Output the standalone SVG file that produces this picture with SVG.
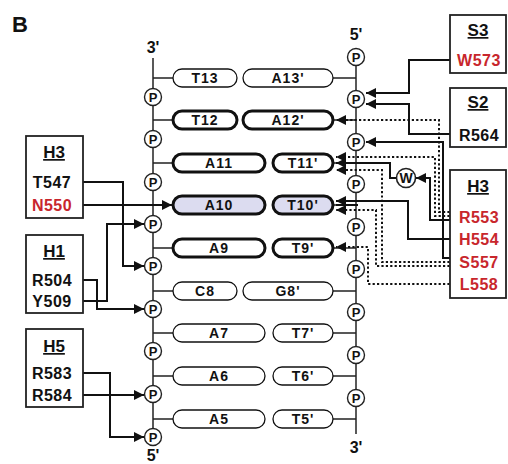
<svg xmlns="http://www.w3.org/2000/svg" width="508" height="464" viewBox="0 0 508 464">
<style>
text{font-family:"Liberation Sans",Arial,sans-serif;font-weight:bold;fill:#111}
.strand{stroke:#222;stroke-width:1.5;fill:none}
.pt{fill:#fff;stroke:#111;stroke-width:1.3}
.pk{fill:#fff;stroke:#111;stroke-width:3}
.hl{fill:#dcdcf0}
.pl{font-size:14px;letter-spacing:1px;text-anchor:middle}
.pc{fill:#fff;stroke:#222;stroke-width:1.4}
.pp{font-size:13px;text-anchor:middle}
.box{fill:#fff;stroke:#222;stroke-width:1.8}
.hd{font-size:17px;text-anchor:middle;text-decoration:underline}
.it{font-size:16px;letter-spacing:0.5px;text-anchor:middle}
.red{fill:#c8262c}
.end{font-size:16px;text-anchor:middle}
.c{fill:none;stroke:#111;stroke-width:2}
.d{stroke-dasharray:2.2 2.2}
</style>
<defs>
<marker id="ah" markerUnits="userSpaceOnUse" markerWidth="10" markerHeight="10" refX="10" refY="5" orient="auto">
<path d="M0,0 L10,5 L0,10 z" fill="#111"/>
</marker>
</defs>
<rect width="508" height="464" fill="#fff"/>
<text x="12" y="32" style="font-size:22px">B</text>
<g id="strands">
<line class="strand" x1="153" y1="58" x2="153" y2="437"/>
<line class="strand" x1="356" y1="57" x2="356" y2="434"/>
<g class="strand">
<path d="M153,78H173M153,120H173M153,163H173M153,205H173M153,248H173M153,291H173M153,333H173M153,376H173M153,419H173"/>
<path d="M333,78H356M333,120H356M333,163H356M333,205H356M333,248H356M333,291H356M333,333H356M333,376H356M333,419H356"/>
</g>
<text class="end" x="153" y="53">3'</text>
<text class="end" x="356" y="40">5'</text>
<text class="end" x="153" y="461">5'</text>
<text class="end" x="356" y="453">3'</text>
</g>
<g id="phosphates">
<g><circle class="pc" cx="153" cy="97" r="8.5"/><text class="pp" x="153" y="101.7">P</text></g>
<g><circle class="pc" cx="153" cy="139" r="8.5"/><text class="pp" x="153" y="143.7">P</text></g>
<g><circle class="pc" cx="153" cy="182" r="8.5"/><text class="pp" x="153" y="186.7">P</text></g>
<g><circle class="pc" cx="153" cy="224" r="8.5"/><text class="pp" x="153" y="228.7">P</text></g>
<g><circle class="pc" cx="153" cy="266" r="8.5"/><text class="pp" x="153" y="270.7">P</text></g>
<g><circle class="pc" cx="153" cy="309" r="8.5"/><text class="pp" x="153" y="313.7">P</text></g>
<g><circle class="pc" cx="153" cy="351" r="8.5"/><text class="pp" x="153" y="355.7">P</text></g>
<g><circle class="pc" cx="153" cy="394" r="8.5"/><text class="pp" x="153" y="398.7">P</text></g>
<g><circle class="pc" cx="153" cy="437" r="8.5"/><text class="pp" x="153" y="441.7">P</text></g>
<g><circle class="pc" cx="356" cy="57" r="8.5"/><text class="pp" x="356" y="61.7">P</text></g>
<g><circle class="pc" cx="356" cy="99" r="8.5"/><text class="pp" x="356" y="103.7">P</text></g>
<g><circle class="pc" cx="356" cy="142" r="8.5"/><text class="pp" x="356" y="146.7">P</text></g>
<g><circle class="pc" cx="356" cy="184" r="8.5"/><text class="pp" x="356" y="188.7">P</text></g>
<g><circle class="pc" cx="356" cy="227" r="8.5"/><text class="pp" x="356" y="231.7">P</text></g>
<g><circle class="pc" cx="356" cy="269" r="8.5"/><text class="pp" x="356" y="273.7">P</text></g>
<g><circle class="pc" cx="356" cy="312" r="8.5"/><text class="pp" x="356" y="316.7">P</text></g>
<g><circle class="pc" cx="356" cy="355" r="8.5"/><text class="pp" x="356" y="359.7">P</text></g>
<g><circle class="pc" cx="356" cy="398" r="8.5"/><text class="pp" x="356" y="402.7">P</text></g>
</g>
<g id="bases">
<g id="T13"><rect class="pt" x="173" y="69" width="64" height="18" rx="9"/><text class="pl" x="205" y="83">T13</text></g>
<g id="A13p"><rect class="pt" x="243" y="69" width="90" height="18" rx="9"/><text class="pl" x="288" y="83">A13'</text></g>
<g id="T12"><rect class="pk" x="173" y="111" width="64" height="18" rx="9"/><text class="pl" x="205" y="125">T12</text></g>
<g id="A12p"><rect class="pk" x="243" y="111" width="90" height="18" rx="9"/><text class="pl" x="288" y="125">A12'</text></g>
<g id="A11"><rect class="pk" x="173" y="154" width="92" height="18" rx="9"/><text class="pl" x="219" y="168">A11</text></g>
<g id="T11p"><rect class="pk" x="273" y="154" width="60" height="18" rx="9"/><text class="pl" x="303" y="168">T11'</text></g>
<g id="A10"><rect class="pk hl" x="173" y="196" width="92" height="18" rx="9"/><text class="pl" x="219" y="210">A10</text></g>
<g id="T10p"><rect class="pk hl" x="273" y="196" width="60" height="18" rx="9"/><text class="pl" x="303" y="210">T10'</text></g>
<g id="A9"><rect class="pk" x="173" y="239" width="92" height="18" rx="9"/><text class="pl" x="219" y="253">A9</text></g>
<g id="T9p"><rect class="pk" x="273" y="239" width="60" height="18" rx="9"/><text class="pl" x="303" y="253">T9'</text></g>
<g id="C8"><rect class="pt" x="173" y="282" width="64" height="18" rx="9"/><text class="pl" x="205" y="296">C8</text></g>
<g id="G8p"><rect class="pt" x="243" y="282" width="90" height="18" rx="9"/><text class="pl" x="288" y="296">G8'</text></g>
<g id="A7"><rect class="pt" x="173" y="324" width="92" height="18" rx="9"/><text class="pl" x="219" y="338">A7</text></g>
<g id="T7p"><rect class="pt" x="273" y="324" width="60" height="18" rx="9"/><text class="pl" x="303" y="338">T7'</text></g>
<g id="A6"><rect class="pt" x="173" y="367" width="92" height="18" rx="9"/><text class="pl" x="219" y="381">A6</text></g>
<g id="T6p"><rect class="pt" x="273" y="367" width="60" height="18" rx="9"/><text class="pl" x="303" y="381">T6'</text></g>
<g id="A5"><rect class="pt" x="173" y="410" width="92" height="18" rx="9"/><text class="pl" x="219" y="424">A5</text></g>
<g id="T5p"><rect class="pt" x="273" y="410" width="60" height="18" rx="9"/><text class="pl" x="303" y="424">T5'</text></g>
</g>
<g id="connectors">
<path class="c" d="M77,182H123V266H144" marker-end="url(#ah)"/>
<path class="c" d="M77,205H172" marker-end="url(#ah)"/>
<path class="c" d="M77,280H97V309H144" marker-end="url(#ah)"/>
<path class="c" d="M77,301H107V224H144" marker-end="url(#ah)"/>
<path class="c" d="M77,373H110V437H144" marker-end="url(#ah)"/>
<path class="c" d="M77,395H144" marker-end="url(#ah)"/>
<path class="c" d="M454,60H409V93H366" marker-end="url(#ah)"/>
<path class="c" d="M454,134H409V104H366" marker-end="url(#ah)"/>
<path class="c" d="M454,258H443V142H366" marker-end="url(#ah)"/>
<path class="c" d="M454,220H430V178H416" marker-end="url(#ah)"/>
<path class="c" d="M396,178H390V163H336" marker-end="url(#ah)"/>
<path class="c" d="M454,239H408V201H336" marker-end="url(#ah)"/>
<path class="c" d="M358,205H336"/>
<path class="c d" d="M454,212H439V120H336" marker-end="url(#ah)"/>
<path class="c d" d="M454,216H435V157H336" marker-end="url(#ah)"/>
<path class="c d" d="M454,262H382V170H336" marker-end="url(#ah)"/>
<path class="c d" d="M454,266H376V210H336" marker-end="url(#ah)"/>
<path class="c d" d="M454,284H368V247H336" marker-end="url(#ah)"/>
</g>
<g id="water"><circle class="pc" cx="406" cy="178" r="9.5" style="stroke-width:1.6"/><text class="pp" x="406" y="183" style="font-size:14px">W</text></g>
<g id="S3"><rect class="box" x="450" y="15" width="56" height="58"/><text class="hd" x="478" y="36">S3</text><text class="it red" x="479" y="66">W573</text></g>
<g id="S2"><rect class="box" x="450" y="88" width="56" height="59"/><text class="hd" x="478" y="108">S2</text><text class="it" x="479" y="141">R564</text></g>
<g id="H3r"><rect class="box" x="450" y="170" width="56" height="128"/><text class="hd" x="478" y="192">H3</text><text class="it red" x="479" y="223">R553</text><text class="it red" x="479" y="245">H554</text><text class="it red" x="479" y="268">S557</text><text class="it red" x="479" y="290">L558</text></g>
<g id="H3l"><rect class="box" x="26" y="136" width="57" height="82"/><text class="hd" x="54" y="158">H3</text><text class="it" x="52" y="188">T547</text><text class="it red" x="52" y="211">N550</text></g>
<g id="H1"><rect class="box" x="26" y="235" width="57" height="78"/><text class="hd" x="54" y="257">H1</text><text class="it" x="52" y="286">R504</text><text class="it" x="52" y="307">Y509</text></g>
<g id="H5"><rect class="box" x="26" y="329" width="57" height="78"/><text class="hd" x="54" y="352">H5</text><text class="it" x="52" y="379">R583</text><text class="it" x="52" y="401">R584</text></g>
</svg>
